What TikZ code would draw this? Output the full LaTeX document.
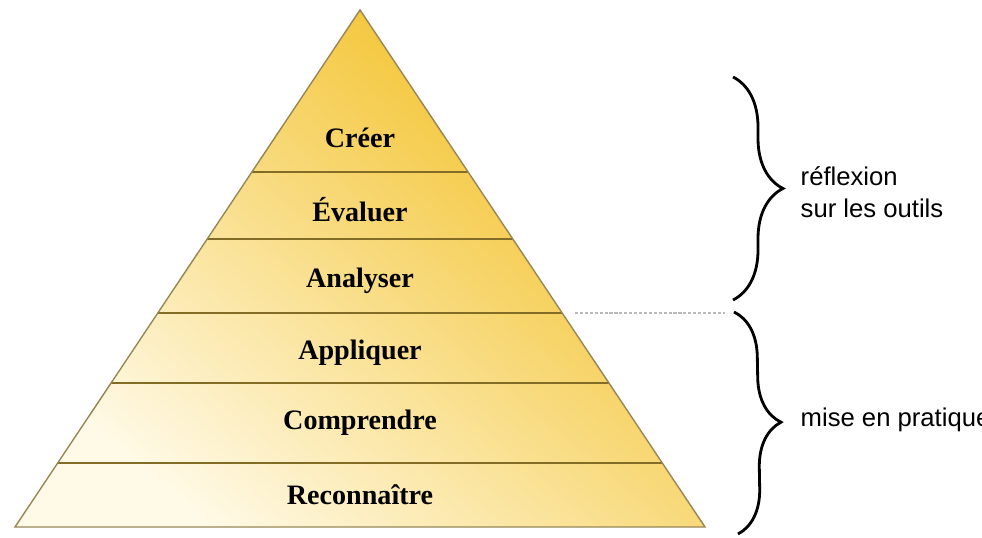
\documentclass[tikz,border=0pt]{standalone}
\usepackage{fontspec}
\setmainfont{Liberation Serif}
\setsansfont{Liberation Sans}
\usetikzlibrary{decorations.pathreplacing}
\definecolor{pyrgold}{RGB}{242,190,30}
\definecolor{pyrmid}{RGB}{249,218,105}
\definecolor{pyrpale}{RGB}{255,250,232}
\definecolor{pyrline}{RGB}{130,108,38}
\definecolor{pyredge}{RGB}{150,135,85}

\begin{document}
\begin{tikzpicture}[
        level/.style={font=\fontsize{8}{9.6}\selectfont\bfseries},
        note/.style={font=\sffamily\fontsize{7.3}{9}\selectfont, align=left, anchor=west, inner sep=0pt},
        tier/.style={color=pyrline, line width=0.75pt},
        bracket/.style={decorate, decoration={brace, amplitude=#1}, line width=0.8pt}
    ]
            \useasboundingbox (0, 0) rectangle (9.82, 5.37);
            %\draw[lightgray] (0, 0) grid (9, 5);
            \coordinate (bl) at (0.15, 0.10);
            \coordinate (br) at (7.05, 0.10);
            \coordinate (apex) at (3.60, 5.27);
            \shade[top color=pyrgold, middle color=pyrmid, bottom color=pyrpale, shading angle=-40] (bl) -- (br) -- (apex) -- cycle;
            \draw[tier] (2.52, 3.65) -- (4.68, 3.65);
            \draw[tier] (2.07, 2.98) -- (5.13, 2.98);
            \draw[tier] (1.58, 2.24) -- (5.62, 2.24);
            \draw[tier] (1.11, 1.54) -- (6.09, 1.54);
            \draw[tier] (0.58, 0.74) -- (6.62, 0.74);
            \draw[color=pyredge, line width=0.4pt] (bl) -- (br) -- (apex) -- cycle;
            \node[level] (creer) at (3.60, 3.99) {Créer};
            \node[level] (evaluer) at (3.60, 3.27) {Évaluer};
            \node[level] (analyser) at (3.60, 2.56) {Analyser};
            \node[level] (appliquer) at (3.60, 1.84) {Appliquer};
            \node[level] (comprendre) at (3.60, 1.14) {Comprendre};
            \node[level] (reconnaitre) at (3.60, 0.42) {Reconnaître};
            \coordinate (cut) at (5.75, 2.24);
            \coordinate (cutend) at (7.25, 2.24);
            \draw[color=gray!55, line width=0.45pt, dash pattern=on 0.9pt off 0.5pt] (cut) -- (cutend);
            \coordinate (hightop) at (7.33, 4.60);
            \coordinate (highbot) at (7.33, 2.37);
            \draw[bracket=0.5cm] (hightop) -- (highbot);
            \node[note] (reflexion) at (8.00, 3.45) {réflexion\\sur les outils};
            \coordinate (lowtop) at (7.34, 2.25);
            \coordinate (lowbot) at (7.38, 0.03);
            \draw[bracket=0.45cm] (lowtop) -- (lowbot);
            \node[note] (pratique) at (8.00, 1.17) {mise en pratique};
        \end{tikzpicture}
\end{document}
